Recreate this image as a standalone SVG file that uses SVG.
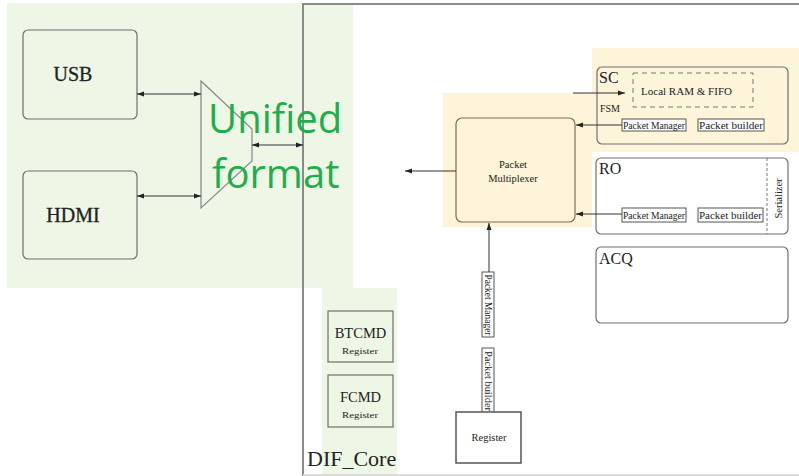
<svg xmlns="http://www.w3.org/2000/svg" width="799" height="476" viewBox="0 0 799 476">
<style>
.bgG{fill:#eef6e5}
.bgO{fill:#fef4da}
.box{fill:none;stroke:#6f6f6f;stroke-width:1.2}
.boxO{fill:none;stroke:#7d6c55;stroke-width:1.2}
.sm{fill:#fff;stroke:#555;stroke-width:1}
.ser{font-family:"Liberation Serif",serif;fill:#222}
.conn line,.conn polyline{stroke:#333;stroke-width:1;fill:none}
.green{font-family:"Open Sans",sans-serif;font-size:40px;fill:#1fae4b}
</style>
<defs>
<marker id="ah" markerUnits="userSpaceOnUse" markerWidth="8" markerHeight="6" refX="7" refY="3" orient="auto-start-reverse">
<path d="M0,0.5 L7,3 L0,5.5 Z" fill="#222"/>
</marker>
</defs>
<rect width="799" height="476" fill="#fff"/>
<!-- backgrounds -->
<rect class="bgG" x="7" y="3" width="346" height="285"/>
<rect class="bgG" x="322" y="288" width="75" height="188"/>
<rect class="bgO" x="592" y="48" width="207" height="104"/>
<rect class="bgO" x="443" y="93" width="149" height="134"/>
<!-- DIF_Core frame -->
<g id="dif_core">
<path d="M303,476 L303,4 L799,4" fill="none" stroke="#8a8a8a" stroke-width="2"/>
<line x1="303" y1="475" x2="799" y2="475" stroke="#dcdcdc" stroke-width="2"/>
<text class="ser" x="307" y="466" font-size="22">DIF_Core</text>
</g>
<g id="usb">
<rect class="box" x="23" y="30" width="114" height="89" rx="5"/>
<text class="ser" x="73" y="81" font-size="20" text-anchor="middle" stroke="#222" stroke-width="0.3">USB</text>
</g>
<g id="hdmi">
<rect class="box" x="23" y="171" width="114" height="88" rx="5"/>
<text class="ser" x="73" y="222" font-size="20" text-anchor="middle" stroke="#222" stroke-width="0.3">HDMI</text>
</g>
<g id="mux">
<polygon points="201,81 252,129 252,161 201,208" fill="none" stroke="#888" stroke-width="1.2"/>
</g>
<g id="unified">
<text class="green" x="208" y="133">Unified</text>
<text class="green" x="212" y="188">format</text>
</g>
<g id="packet_multiplexer">
<rect class="boxO" x="456" y="118" width="119" height="104" rx="6"/>
<text class="ser" x="513" y="168" font-size="10.5" text-anchor="middle" fill="#4a3f2a">Packet</text>
<text class="ser" x="513" y="182" font-size="10.5" text-anchor="middle" fill="#4a3f2a">Multiplexer</text>
</g>
<g id="sc">
<rect class="box" x="597" y="67" width="191" height="77" rx="5"/>
<text class="ser" x="599" y="83" font-size="16">SC</text>
<text class="ser" x="600" y="112" font-size="10">FSM</text>
<rect x="633" y="73" width="120" height="34" fill="none" stroke="#777" stroke-width="1" stroke-dasharray="5,4"/>
<text class="ser" x="641" y="95" font-size="10.5" textLength="91" lengthAdjust="spacingAndGlyphs">Local RAM &amp; FIFO</text>
<rect class="sm" x="622" y="119" width="64" height="12"/>
<text class="ser" x="623" y="128.5" font-size="9.5" textLength="62" lengthAdjust="spacingAndGlyphs">Packet Manager</text>
<rect class="sm" x="698" y="119" width="66" height="12"/>
<text class="ser" x="699" y="128.5" font-size="9.5" textLength="64" lengthAdjust="spacingAndGlyphs">Packet builder</text>
</g>
<g id="ro">
<rect class="box" x="596" y="158" width="192" height="76" rx="5"/>
<text class="ser" x="599" y="174" font-size="16">RO</text>
<line x1="767" y1="158" x2="767" y2="234" stroke="#777" stroke-width="1" stroke-dasharray="3,2"/>
<text class="ser" font-size="10.5" text-anchor="middle" transform="translate(782,198.5) rotate(-90)">Serializer</text>
<rect class="sm" x="622" y="208" width="64" height="14"/>
<text class="ser" x="623" y="218.5" font-size="9.5" textLength="62" lengthAdjust="spacingAndGlyphs">Packet Manager</text>
<rect class="sm" x="698" y="208" width="65" height="14"/>
<text class="ser" x="699" y="218.5" font-size="9.5" textLength="63" lengthAdjust="spacingAndGlyphs">Packet builder</text>
</g>
<g id="acq">
<rect class="box" x="596" y="247" width="192" height="76" rx="5"/>
<text class="ser" x="599" y="264" font-size="16">ACQ</text>
</g>
<g id="packet_manager_v">
<rect class="sm" x="482" y="272" width="12" height="65"/>
<text class="ser" font-size="9.5" text-anchor="middle" textLength="61" lengthAdjust="spacingAndGlyphs" transform="translate(484.5,305) rotate(90)">Packet Manager</text>
</g>
<g id="packet_builder_v">
<rect class="sm" x="482" y="348" width="12" height="65"/>
<text class="ser" font-size="9.5" text-anchor="middle" textLength="60" lengthAdjust="spacingAndGlyphs" transform="translate(484.5,381) rotate(90)">Packet builder</text>
</g>
<g id="register">
<rect x="456" y="412" width="65" height="51" fill="#fff" stroke="#555" stroke-width="1.5"/>
<text class="ser" x="489" y="441" font-size="10.5" text-anchor="middle">Register</text>
</g>
<g id="btcmd">
<rect class="box" x="328" y="311" width="65" height="51"/>
<text class="ser" x="360.5" y="338" font-size="14.5" text-anchor="middle">BTCMD</text>
<text class="ser" x="342" y="354" font-size="9" textLength="36" lengthAdjust="spacingAndGlyphs">Register</text>
</g>
<g id="fcmd">
<rect class="box" x="328" y="375" width="65" height="52"/>
<text class="ser" x="360.5" y="402" font-size="14.5" text-anchor="middle">FCMD</text>
<text class="ser" x="342" y="418" font-size="9" textLength="36" lengthAdjust="spacingAndGlyphs">Register</text>
</g>
<g class="conn" id="connectors">
<line x1="137" y1="94" x2="201" y2="94" marker-start="url(#ah)" marker-end="url(#ah)"/>
<line x1="137" y1="196" x2="201" y2="196" marker-start="url(#ah)" marker-end="url(#ah)"/>
<line x1="252" y1="145" x2="303" y2="145" marker-start="url(#ah)" marker-end="url(#ah)"/>
<line x1="456" y1="171" x2="405" y2="171" marker-end="url(#ah)"/>
<line x1="573" y1="93" x2="625" y2="93" marker-end="url(#ah)"/>
<line x1="622" y1="125" x2="576" y2="125" marker-end="url(#ah)"/>
<line x1="622" y1="214" x2="576" y2="214" marker-end="url(#ah)"/>
<line x1="489" y1="272" x2="489" y2="223" marker-end="url(#ah)"/>
</g>
</svg>
